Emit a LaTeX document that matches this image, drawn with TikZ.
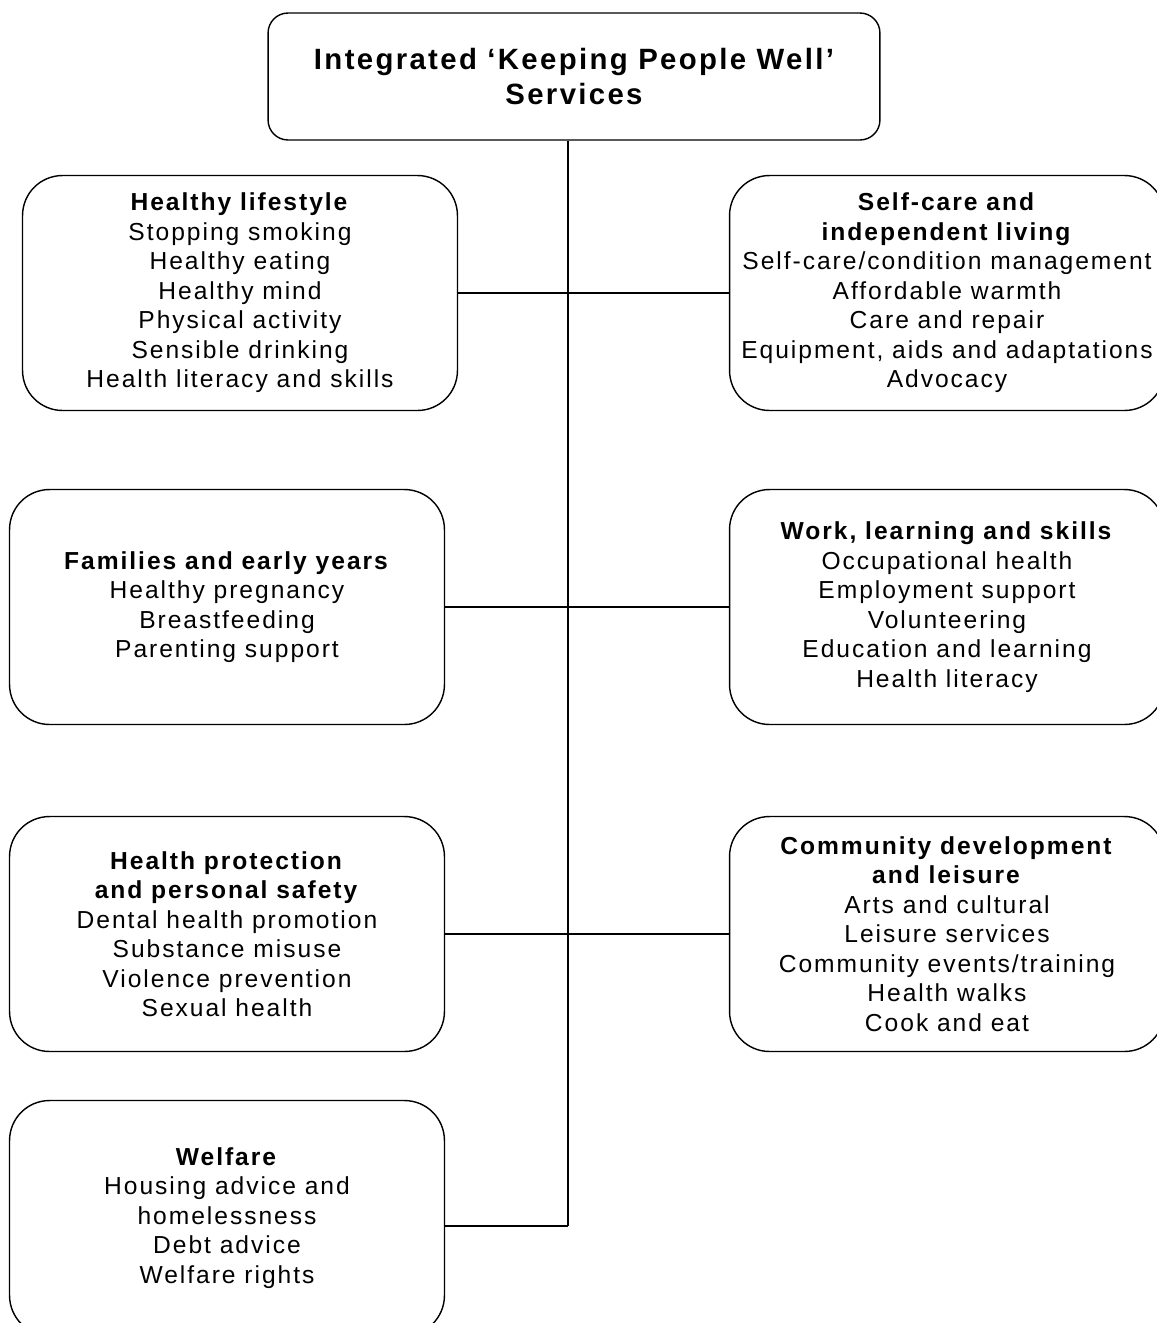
\documentclass[tikz,border=0pt]{standalone}
\usepackage{fontspec}
\setmainfont{Liberation Sans}[LetterSpace=8]
\usepackage{tikz}
\usetikzlibrary{positioning}

\begin{document}
\begin{tikzpicture}[
        x=0.02cm,
        y=-0.02cm,
        block/.style={
            rectangle,
            draw,
            line width=0.8pt,
            fill=white,
            align=center,
            rounded corners=0.8cm,
            minimum width=8.7cm,
            minimum height=4.7cm,
            inner sep=0pt,
            font=\fontsize{14}{16.8}\selectfont
        },
        head/.style={
            block,
            rounded corners=0.4cm,
            minimum width=12.24cm,
            minimum height=2.54cm,
            font=\fontsize{16.7}{20.4}\selectfont\bfseries
        },
        line/.style={
            draw,
            line width=0.8pt
        },
        ]

        \useasboundingbox (0,0) rectangle (1157,1323);
        \clip (0,0) rectangle (1157,1323);

        \node [head] (services) at (574,76.5) {Integrated ‘Keeping People Well’\\Services};
        \coordinate (trunk) at (568,1226);

        \path [line] (trunk |- services.south) -- (trunk);

        \node [block] (lifestyle) at (240,293) {\textbf{Healthy lifestyle}\\Stopping smoking\\Healthy eating\\Healthy mind\\Physical activity\\Sensible drinking\\Health literacy and skills};
        \node [block] (selfcare) at (947,293) {\textbf{Self-care and}\\\textbf{independent living}\\Self-care/condition management\\Affordable warmth\\Care and repair\\Equipment, aids and adaptations\\Advocacy};
        \node [block] (families) at (227,607) {\textbf{Families and early years}\\Healthy pregnancy\\Breastfeeding\\Parenting support};
        \node [block] (work) at (947,607) {\textbf{Work, learning and skills}\\Occupational health\\Employment support\\Volunteering\\Education and learning\\Health literacy};
        \node [block] (protection) at (227,934) {\textbf{Health protection}\\\textbf{and personal safety}\\Dental health promotion\\Substance misuse\\Violence prevention\\Sexual health};
        \node [block] (community) at (947,934) {\textbf{Community development}\\\textbf{and leisure}\\Arts and cultural\\Leisure services\\Community events/training\\Health walks\\Cook and eat};
        \node [block] (welfare) at (227,1218) {\textbf{Welfare}\\Housing advice and\\homelessness\\Debt advice\\Welfare rights};

        \path [line] (lifestyle) -- (selfcare);
        \path [line] (families) -- (work);
        \path [line] (protection) -- (community);
        \path [line] (trunk) -- (trunk -| welfare.east);
    \end{tikzpicture}
\end{document}
